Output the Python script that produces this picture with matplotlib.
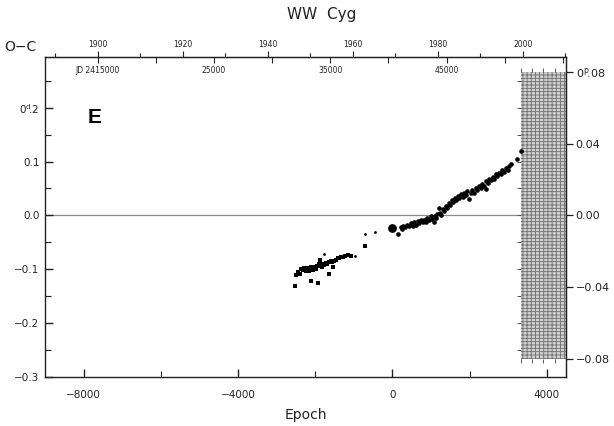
import numpy as np
import matplotlib
matplotlib.use('Agg')
import matplotlib.pyplot as plt
from matplotlib.patches import Rectangle
from matplotlib.ticker import FixedLocator, FixedFormatter, MultipleLocator

plt.rcParams['font.family'] = ['DejaVu Sans']
plt.rcParams['hatch.linewidth'] = 0.6

# ephemeris used for the epoch <-> JD conversion
T0 = 2440330.0
PERIOD = 3.3178

# older timings (squares)
epoch_sq = [-2530, -2490, -2450, -2400, -2360, -2320, -2280, -2250, -2230, -2200,
            -2170, -2140, -2120, -2100, -2080, -2050, -2020, -1990, -1960, -1930,
            -1900, -1880, -1850, -1820, -1790, -1760, -1720, -1690, -1650, -1630,
            -1600, -1560, -1540, -1500, -1460, -1420, -1370, -1330, -1280, -1230,
            -1160, -1070, -700]
oc_sq = [-0.131, -0.111, -0.106, -0.108, -0.100, -0.102, -0.098, -0.104, -0.100, -0.097,
         -0.103, -0.100, -0.095, -0.122, -0.099, -0.101, -0.096, -0.100, -0.094, -0.126,
         -0.091, -0.083, -0.094, -0.096, -0.090, -0.093, -0.088, -0.091, -0.108, -0.087,
         -0.085, -0.086, -0.096, -0.084, -0.082, -0.079, -0.080, -0.078, -0.077, -0.075,
         -0.073, -0.076, -0.057]

# low-weight timings (small dots)
epoch_small = [-1760, -960, -720, -440]
oc_small = [-0.071, -0.076, -0.034, -0.030]

# photoelectric / CCD timings
epoch_pe = [140, 220, 260, 280, 330, 380, 430, 480, 530, 570,
            620, 660, 700, 740, 790, 830, 870, 910, 950, 990,
            1040, 1085, 1100, 1130, 1170, 1210, 1230, 1260, 1300, 1340,
            1380, 1420, 1460, 1500, 1540, 1580, 1620, 1660, 1700, 1740,
            1780, 1820, 1860, 1900, 1940, 1990, 2030, 2070, 2110, 2160,
            2200, 2250, 2290, 2330, 2380, 2420, 2425, 2470, 2510, 2550,
            2600, 2640, 2680, 2720, 2760, 2810, 2850, 2900, 2940, 2990,
            3030, 3070, 3240, 3330]
oc_pe = [-0.035, -0.022, -0.025, -0.019, -0.022, -0.017, -0.020, -0.015, -0.019, -0.013,
         -0.017, -0.011, -0.015, -0.009, -0.013, -0.008, -0.012, -0.004, -0.009, -0.002,
         -0.007, -0.013, -0.001, -0.005, 0.002, 0.013, 0.004, 0.000, 0.011, 0.008,
         0.017, 0.014, 0.023, 0.020, 0.028, 0.025, 0.033, 0.028, 0.036, 0.033,
         0.039, 0.034, 0.042, 0.038, 0.045, 0.031, 0.041, 0.047, 0.042, 0.050,
         0.047, 0.054, 0.050, 0.058, 0.055, 0.063, 0.049, 0.060, 0.068, 0.065,
         0.072, 0.068, 0.076, 0.073, 0.079, 0.077, 0.084, 0.081, 0.088, 0.085,
         0.091, 0.095, 0.105, 0.120]

# high-weight timing (large dot)
epoch_big = [-20]
oc_big = [-0.024]

year_ticks = [1900, 1920, 1940, 1960, 1980, 2000]
jd_ticks = [2415000, 2425000, 2435000, 2445000]
jd_labels = ['JD 2415000', '25000', '35000', '45000']

left_ticks = [-0.3, -0.2, -0.1, 0.0, 0.1, 0.2]
left_labels = ['\u22120.3', '\u22120.2', '\u22120.1', '0.0', '0.1', r'0$^{\rm d}\!$.2']
right_ticks = [-0.08, -0.04, 0.0, 0.04, 0.08]
right_labels = ['\u22120.08', '\u22120.04', '0.00', '0.04', r'0$^{\rm p}\!$.08']
RIGHT_SCALE = 0.3

YMIN, YMAX = -0.3, 0.294
XMIN, XMAX = -9000, 4500
ink = '#222222'


def year_to_epoch(y):
    jd = 2415020.5 + (np.asarray(y) - 1900.0) * 365.25
    return (jd - T0) / PERIOD


def epoch_to_year(e):
    jd = T0 + np.asarray(e) * PERIOD
    return 1900.0 + (jd - 2415020.5) / 365.25


def jd_to_epoch(jd):
    return (np.asarray(jd) - T0) / PERIOD


def epoch_to_jd(e):
    return T0 + np.asarray(e) * PERIOD


fig = plt.figure(figsize=(6.14, 4.26), dpi=100)
ax = fig.add_axes([45 / 614, 1 - 377 / 426, 521 / 614, 320 / 426])
ax.set_xlim(XMIN, XMAX)
ax.set_ylim(YMIN, YMAX)

ax.axhline(0.0, color='#8a8a8a', lw=0.9, zorder=1)

ax.scatter(epoch_sq, oc_sq, marker='s', s=9, color='black', lw=0, zorder=3)
ax.scatter(epoch_small, oc_small, marker='o', s=4, color='black', lw=0, zorder=3)
ax.scatter(epoch_pe, oc_pe, marker='o', s=11, color='black', lw=0, zorder=3)
ax.scatter(epoch_big, oc_big, marker='o', s=40, color='black', lw=0, zorder=3)

for sp in ax.spines.values():
    sp.set_color(ink)
    sp.set_linewidth(1.0)

ax.xaxis.set_major_locator(MultipleLocator(4000))
ax.xaxis.set_minor_locator(MultipleLocator(2000))
ax.xaxis.set_major_formatter(plt.FuncFormatter(lambda v, p: f'{int(v)}'.replace('-', '\u2212')))
ax.yaxis.set_major_locator(FixedLocator(left_ticks))
ax.yaxis.set_major_formatter(FixedFormatter(left_labels))
ax.yaxis.set_minor_locator(MultipleLocator(0.05))
ax.tick_params(axis='both', which='major', direction='in', length=6, width=1.0,
               labelsize=7.5, colors=ink, top=False, right=False)
ax.tick_params(axis='both', which='minor', direction='in', length=4, width=0.8,
               colors=ink, top=False, right=False)
ax.tick_params(axis='x', pad=9)
ax.tick_params(axis='y', pad=4)
ax.set_xlabel('Epoch', fontsize=10, color=ink, labelpad=6)

# calendar years above the top spine
secy = ax.secondary_xaxis('top', functions=(epoch_to_year, year_to_epoch))
secy.xaxis.set_major_locator(FixedLocator(year_ticks))
secy.xaxis.set_minor_locator(MultipleLocator(10))
secy.tick_params(which='major', direction='out', length=4, width=0.8, labelsize=5.5,
                 colors=ink, pad=2)
secy.tick_params(which='minor', direction='out', length=3, width=0.8, colors=ink)
secy.spines['top'].set_color(ink)

# Julian dates just under the top spine
secj = ax.secondary_xaxis('top', functions=(epoch_to_jd, jd_to_epoch))
secj.xaxis.set_major_locator(FixedLocator(jd_ticks))
secj.xaxis.set_major_formatter(FixedFormatter(jd_labels))
secj.xaxis.set_minor_locator(MultipleLocator(5000))
secj.tick_params(which='both', direction='in', length=4, width=0.8, labelsize=5.5,
                 colors=ink, pad=-13)
secj.spines['top'].set_visible(False)

# right-hand scale
axr = ax.twinx()
axr.set_ylim(YMIN * RIGHT_SCALE, YMAX * RIGHT_SCALE)
axr.yaxis.set_major_locator(FixedLocator(right_ticks))
axr.yaxis.set_major_formatter(FixedFormatter(right_labels))
axr.tick_params(direction='out', length=5, width=0.9, labelsize=8, colors=ink, pad=2)
for sp in axr.spines.values():
    sp.set_visible(False)
axr.spines['right'].set_visible(True)
axr.spines['right'].set_color(ink)

# shaded panel at the right edge
h = 0.08 / RIGHT_SCALE
ins = ax.inset_axes([3330, -h, XMAX - 3330, 2 * h], transform=ax.transData, zorder=2)
ins.set_xlim(0, 4)
ins.set_ylim(-h, h)
ins.patch.set_alpha(0)
for sp in ins.spines.values():
    sp.set_visible(False)
ins.add_patch(Rectangle((0, -h), 4, 2 * h, facecolor='#d0d0d0', edgecolor='#707070',
                        hatch='-----||||', lw=0))
ins.xaxis.set_major_locator(MultipleLocator(1))
ins.yaxis.set_major_locator(MultipleLocator(0.05))
ins.tick_params(direction='out', length=3, width=0.7, colors='#555555',
                top=True, bottom=True, left=True, right=False,
                labelbottom=False, labelleft=False)

ax.text(0.096, 0.81, 'E', transform=ax.transAxes, fontsize=15, fontweight='bold',
        family=['Liberation Sans', 'DejaVu Sans'], ha='center', va='center', color='black')
fig.text(20 / 614, 1 - 47 / 426, 'O\u2212C', fontsize=10, ha='center', va='center', color=ink)
fig.text(322 / 614, 1 - 15 / 426, 'WW  Cyg', fontsize=11, ha='center', va='center', color=ink)

fig.savefig('out.png', dpi=100)
